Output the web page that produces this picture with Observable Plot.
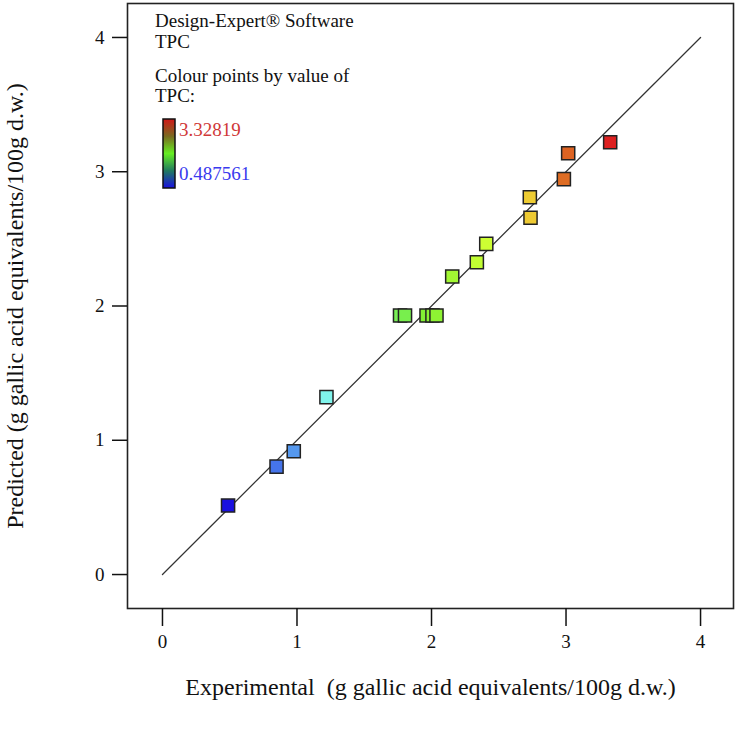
<!DOCTYPE html>
<html>
<head>
<meta charset="utf-8">
<script src="https://cdn.jsdelivr.net/npm/d3@7"></script>
<script src="https://cdn.jsdelivr.net/npm/@observablehq/plot@0.6"></script>
<style>
  html, body { margin: 0; padding: 0; background: #fff; }
  #wrap { position: relative; width: 737px; height: 737px; }
  #legend { position: absolute; left: 0; top: 0; pointer-events: none; }
</style>
</head>
<body>
<div id="wrap"></div>
<script>
// ---- data ----
const experimental = [0.487561, 0.848, 0.976, 1.219, 1.766, 1.803, 1.963, 2.007, 2.037, 2.154, 2.337, 2.407, 2.731, 2.736, 2.984, 3.016, 3.32819];
const predicted    = [0.514, 0.804, 0.918, 1.321, 1.929, 1.929, 1.929, 1.929, 1.929, 2.220, 2.326, 2.463, 2.810, 2.657, 2.945, 3.138, 3.220];
const xTicks = [0, 1, 2, 3, 4];
const yTicks = [0, 1, 2, 3, 4];
const diagonal = [0, 4];
const tpcMin = 0.487561;
const tpcMax = 3.32819;
const xTitle = "Experimental  (g gallic acid equivalents/100g d.w.)";
const yTitle = "Predicted (g gallic acid equivalents/100g d.w.)";
const legendLines = ["Design-Expert\u00AE Software", "TPC", "Colour points by value of", "TPC:"];

const points = experimental.map((e, i) => ({exp: e, pred: predicted[i]}));

const colorDomain = [tpcMin, 0.98, 1.22, 1.9, 2.4, 2.73, 3.0, tpcMax];
const colorRange  = ["#1a10e0", "#5599ee", "#80f4ec", "#77ee33", "#ccff33", "#eecc33", "#dd6622", "#dd2020"];

const font = "'Liberation Serif', 'Times New Roman', serif";

const chart = Plot.plot({
  width: 737,
  height: 737,
  marginLeft: 127,
  marginRight: 4,
  marginTop: 3,
  marginBottom: 129,
  x: {domain: [-0.26, 4.245]},
  y: {domain: [-0.253, 4.253]},
  color: {type: "linear", domain: colorDomain, range: colorRange},
  style: {fontFamily: font, fontSize: "19px", color: "#111", background: "#fff"},
  marks: [
    Plot.frame({stroke: "#222", strokeWidth: 1.6}),
    Plot.line(diagonal, {x: d => d, y: d => d, stroke: "#333", strokeWidth: 1.3}),
    Plot.dot(points, {x: "exp", y: "pred", fill: "exp", symbol: "square", r: 7.4, stroke: "#222", strokeWidth: 1.5}),
    Plot.axisX({ticks: xTicks, tickFormat: d => String(d), tickSize: 18, tickPadding: 8, label: null, stroke: "#111", strokeWidth: 1.5, fontSize: 19}),
    Plot.axisY({ticks: yTicks, tickFormat: d => String(d), tickSize: 15, tickPadding: 8, label: null, stroke: "#111", strokeWidth: 1.5, fontSize: 19}),
    Plot.text([xTitle], {text: d => d, frameAnchor: "bottom", dy: 86, fontSize: 24, fill: "#111"}),
    Plot.text([yTitle], {text: d => d, frameAnchor: "left", textAnchor: "middle", dx: -112, rotate: -90, fontSize: 24, fill: "#111"})
  ]
});

document.getElementById("wrap").appendChild(chart);

// ---- legend overlay (inside the plot frame, top-left) ----
const svg = d3.select("#wrap").append("svg")
  .attr("id", "legend")
  .attr("width", 737).attr("height", 737)
  .style("font-family", font);

const baselines = [27, 48, 82, 102];
svg.selectAll("text.leg").data(legendLines).join("text")
  .attr("class", "leg")
  .attr("x", 155)
  .attr("y", (d, i) => baselines[i])
  .attr("font-size", 19)
  .attr("fill", "#111")
  .text(d => d);

const grad = svg.append("defs").append("linearGradient")
  .attr("id", "tpcgrad").attr("x1", 0).attr("y1", 0).attr("x2", 0).attr("y2", 1);
[["0%", "#d01818"], ["25%", "#7a6a20"], ["50%", "#66ee22"], ["75%", "#207a60"], ["100%", "#1a10e0"]]
  .forEach(([o, c]) => grad.append("stop").attr("offset", o).attr("stop-color", c));

svg.append("rect").attr("x", 163).attr("y", 119).attr("width", 12).attr("height", 69)
  .attr("fill", "url(#tpcgrad)").attr("stroke", "#111").attr("stroke-width", 1.5);

svg.append("text").attr("x", 179).attr("y", 136).attr("font-size", 19).attr("fill", "#d03838").text(String(tpcMax));
svg.append("text").attr("x", 179).attr("y", 180).attr("font-size", 19).attr("fill", "#3a3aee").text(String(tpcMin));
</script>
</body>
</html>
